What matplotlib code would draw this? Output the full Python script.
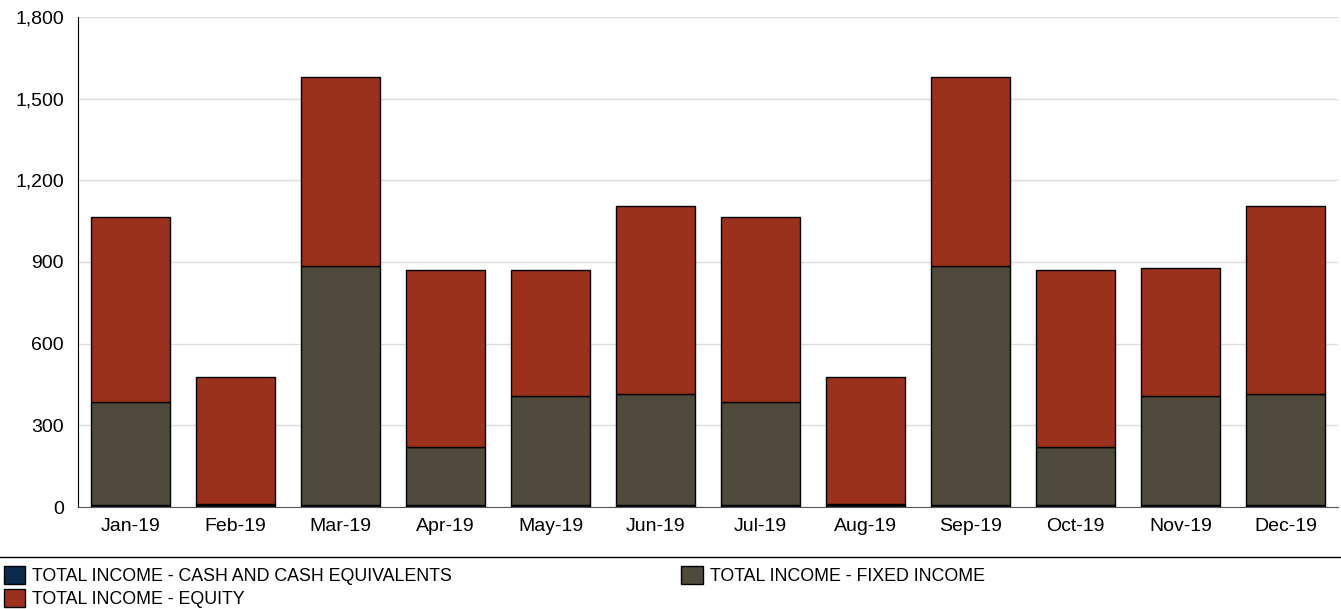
import numpy as np
import matplotlib
matplotlib.use("Agg")
from matplotlib import pyplot as plt
from matplotlib.lines import Line2D
from matplotlib.ticker import FuncFormatter

plt.rcParams['font.family'] = ['Liberation Sans', 'DejaVu Sans']

months = ["Jan-19", "Feb-19", "Mar-19", "Apr-19", "May-19", "Jun-19",
          "Jul-19", "Aug-19", "Sep-19", "Oct-19", "Nov-19", "Dec-19"]
cash = [6, 6, 6, 6, 6, 6, 6, 6, 6, 6, 6, 6]
fixed_income = [380, 6, 879, 214, 402, 409, 380, 6, 879, 214, 402, 409]
equity = [679, 465, 694, 650, 462, 690, 679, 465, 694, 650, 470, 690]

labels = ["TOTAL INCOME - CASH AND CASH EQUIVALENTS",
          "TOTAL INCOME - FIXED INCOME",
          "TOTAL INCOME - EQUITY"]
colors = ["#0c2a4d", "#504a3d", "#9b311c"]

fig = plt.figure(figsize=(13.41, 6.09), dpi=100)
ax = fig.add_axes([78 / 1341, 1 - 507 / 609, 1260 / 1341, 490 / 609])

x = np.arange(len(months))
cash = np.array(cash)
fixed_income = np.array(fixed_income)
equity = np.array(equity)
w = 0.745
b1 = ax.bar(x, cash, w, color=colors[0], edgecolor="black", linewidth=1, zorder=3)
b2 = ax.bar(x, fixed_income, w, bottom=cash, color=colors[1], edgecolor="black", linewidth=1, zorder=3)
b3 = ax.bar(x, equity, w, bottom=cash + fixed_income, color=colors[2], edgecolor="black", linewidth=1, zorder=3)

ax.set_xlim(-0.5, len(months) - 0.5)
ax.set_ylim(0, 1800)
ax.set_yticks(np.arange(0, 1801, 300))
ax.yaxis.set_major_formatter(FuncFormatter(lambda v, p: f"{int(v):,}"))
ax.set_xticks(x)
ax.set_xticklabels(months)
ax.tick_params(axis="both", length=0, labelsize=14, colors="black")
ax.tick_params(axis="x", pad=8)
ax.tick_params(axis="y", pad=10)
ax.grid(axis="y", color="#dcdcdc", linewidth=1, zorder=0)
for s in ["top", "right"]:
    ax.spines[s].set_visible(False)
ax.spines["left"].set_color("black")
ax.spines["bottom"].set_color("#555555")

fig.add_artist(Line2D([0, 1], [1 - 557 / 609, 1 - 557 / 609], color="black",
                      linewidth=1, transform=fig.transFigure))

handles = [b1, b3, b2]
leg_labels = [labels[0], labels[2], labels[1]]
fig.legend(handles, leg_labels, ncol=2, loc="upper left",
           bbox_to_anchor=(0.0, 1 - 562 / 609), frameon=False, fontsize=12.8,
           handlelength=1.2, handleheight=1.2, handletextpad=0.4,
           columnspacing=12.9, labelspacing=0.25, borderaxespad=0,
           borderpad=0.2)

fig.savefig("out.png", dpi=100)
